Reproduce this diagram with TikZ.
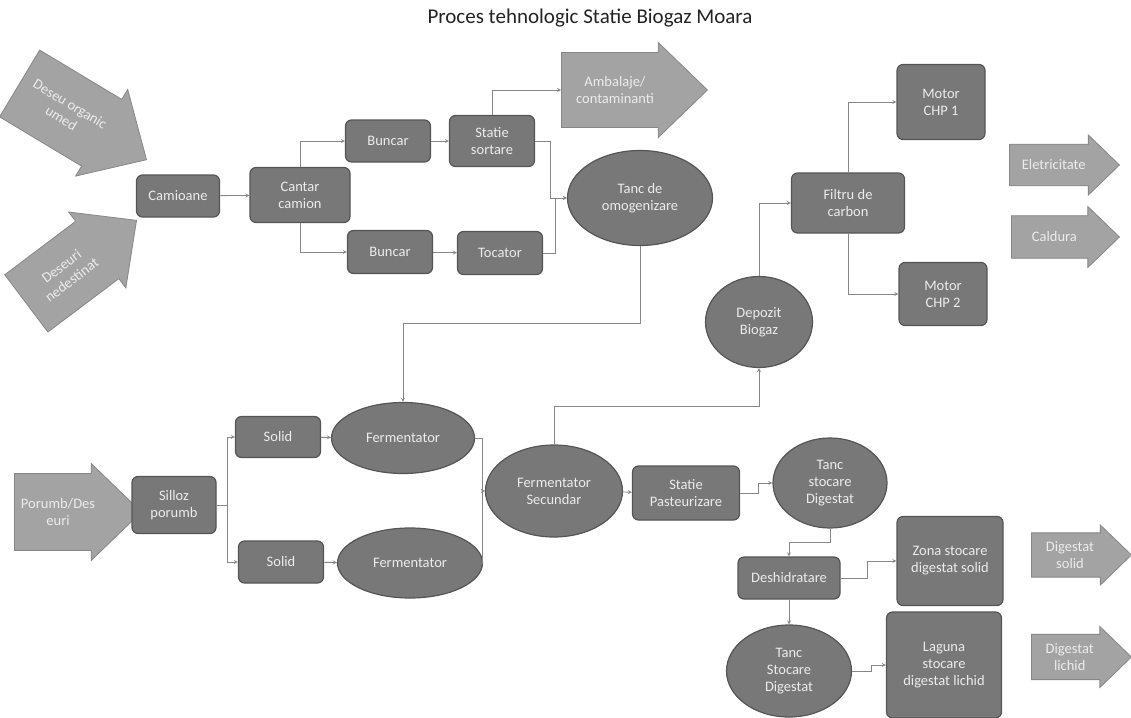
\documentclass[tikz,border=0pt]{standalone}
\usepackage{fontspec}
\setmainfont{Carlito}
\usetikzlibrary{shapes.geometric,shapes.arrows}
\definecolor{boxfill}{RGB}{120,120,120}
\definecolor{boxline}{RGB}{85,85,85}
\definecolor{arrowfill}{RGB}{163,163,163}
\definecolor{arrowline}{RGB}{135,135,135}
\definecolor{boxtext}{RGB}{236,236,236}
\definecolor{flowline}{RGB}{135,135,135}
\definecolor{titlecol}{RGB}{35,35,35}
\newcommand{\nodefont}{\fontsize{14.5}{17}\selectfont}
\begin{document}
\begin{tikzpicture}[x=1pt,y=-1pt,
	box/.style={draw=boxline, fill=boxfill, rounded corners=6pt, line width=1.2pt, text=boxtext, align=center, font=\nodefont, inner sep=1pt},
	tank/.style={ellipse, draw=boxline, fill=boxfill, line width=1.2pt, text=boxtext, align=center, font=\nodefont, inner sep=0pt},
	bigarrow/.style={single arrow, draw=arrowline, fill=arrowfill, line width=0.8pt, text=boxtext, align=center, font=\nodefont, single arrow tip angle=88, inner xsep=1pt, anchor=tip},
	flow/.style={draw=flowline, line width=0.8pt, ->, >=stealth}]
	\useasboundingbox (0,0) rectangle (1131,717);
	\node[font=\fontsize{21}{25}\selectfont, text=titlecol] (title) at (590,18) {Proces tehnologic Statie Biogaz Moara};
	% intrari deseuri
	\node[bigarrow, minimum height=148pt, minimum width=101pt, inner ysep=10pt, rotate=-31] (deseuA) at (147,160) {Deseu organic\\umed};
	\node[bigarrow, minimum height=138pt, minimum width=95pt, inner ysep=8pt, rotate=37] (deseuB) at (137,220) {Deseuri\\nedestinat};
	\node[box, minimum width=83pt, minimum height=42pt] (camioane) at (178,196) {Camioane};
	\node[box, minimum width=100pt, minimum height=55pt] (cantar) at (300,195) {Cantar\\camion};
	\node[box, minimum width=85pt, minimum height=42pt] (buncarA) at (388,141) {Buncar};
	\node[box, minimum width=85pt, minimum height=51pt] (sortare) at (492,141) {Statie\\sortare};
	\node[box, minimum width=85pt, minimum height=43pt] (buncarB) at (390,252) {Buncar};
	\node[box, minimum width=85pt, minimum height=43pt] (tocator) at (500,253) {Tocator};
	\node[tank, minimum width=145pt, minimum height=95pt] (omogen) at (640,198) {Tanc de\\omogenizare};
	\node[bigarrow, minimum height=146pt, minimum width=95pt, inner ysep=12.5pt] (ambalaje) at (708,90) {Ambalaje/\\contaminanti};
	% biogaz
	\node[tank, minimum width=107pt, minimum height=91pt] (depozit) at (759,322) {Depozit\\Biogaz};
	\node[box, minimum width=113pt, minimum height=60pt] (filtru) at (848,203) {Filtru de\\carbon};
	\node[box, minimum width=88pt, minimum height=75pt] (chpA) at (941,102) {Motor\\CHP 1};
	\node[box, minimum width=88pt, minimum height=63pt] (chpB) at (943,294) {Motor\\CHP 2};
	\node[bigarrow, minimum height=110pt, minimum width=60pt, inner ysep=10.5pt] (eletric) at (1120,165) {Eletricitate};
	\node[bigarrow, minimum height=108pt, minimum width=61pt, inner ysep=11pt] (caldura) at (1120,237) {Caldura};
	% fermentare
	\node[bigarrow, minimum height=127pt, minimum width=97pt, inner ysep=13pt] (porumb) at (142,512) {Porumb/Des\\euri};
	\node[box, minimum width=84pt, minimum height=57pt] (silloz) at (174,505) {Silloz\\porumb};
	\node[box, minimum width=85pt, minimum height=41pt] (solidA) at (278,437) {Solid};
	\node[box, minimum width=85pt, minimum height=42pt] (solidB) at (281,562) {Solid};
	\node[tank, minimum width=143pt, minimum height=71pt] (fermA) at (403,438) {Fermentator};
	\node[tank, minimum width=145pt, minimum height=70pt] (fermB) at (410,563) {Fermentator};
	\node[tank, minimum width=137pt, minimum height=92pt] (fermsec) at (554,491) {Fermentator\\Secundar};
	\node[box, minimum width=107pt, minimum height=54pt] (pasteur) at (686,493) {Statie\\Pasteurizare};
	\node[tank, minimum width=114pt, minimum height=90pt] (tancdig) at (830,483) {Tanc\\stocare\\Digestat};
	\node[box, minimum width=102pt, minimum height=42pt] (deshid) at (789,578) {Deshidratare};
	\node[box, minimum width=106pt, minimum height=89pt] (zonasolid) at (950,561) {Zona stocare\\digestat solid};
	\node[tank, minimum width=125pt, minimum height=92pt] (tancstoc) at (789,671) {Tanc\\Stocare\\Digestat};
	\node[box, minimum width=115pt, minimum height=106pt] (laguna) at (944,665) {Laguna\\stocare\\digestat lichid};
	\node[bigarrow, minimum height=100pt, minimum width=60pt, inner ysep=6pt] (digsolid) at (1132,555) {Digestat\\solid};
	\node[bigarrow, minimum height=100pt, minimum width=61pt, inner ysep=6.5pt] (diglichid) at (1132,657) {Digestat\\lichid};
	\coordinate (jf) at (482,491);
	% legaturi
	\draw[flow] (camioane) -- (cantar);
	\draw[flow] (cantar.north) |- (buncarA);
	\draw[flow] (cantar.south) |- (buncarB);
	\draw[flow] (buncarA) -- (sortare);
	\draw[flow] (buncarB) -- (tocator);
	\draw[flow] (sortare.north) |- (ambalaje);
	\draw[flow] (sortare.east) -- ++(15,0) |- (omogen.west);
	\draw[flow] (tocator.east) -- ++(12,0) |- (omogen.west);
	\draw[flow] (omogen.south) -- ++(0,77) -| (fermA.north);
	\draw[flow] (silloz.east) -- ++(11,0) |- (solidA.west);
	\draw[flow] (silloz.east) -- ++(11,0) |- (solidB.west);
	\draw[flow] (solidA) -- (fermA);
	\draw[flow] (solidB) -- (fermB);
	\draw[flow] (fermA.east) -| (jf) -- (fermsec.west);
	\draw[flow] (fermB.east) -| (jf) -- (fermsec.west);
	\draw[flow] (fermsec) -- (pasteur);
	\draw[flow] (pasteur.east) -- ++(18,0) |- (tancdig.west);
	\draw[flow] (tancdig.south) -- ++(0,14) -| (deshid.north);
	\draw[flow] (deshid.east) -- ++(27,0) |- (zonasolid.west);
	\draw[flow] (deshid) -- (tancstoc);
	\draw[flow] (tancstoc.east) -- ++(19,0) |- (laguna.west);
	\draw[flow] (fermsec.north) -- ++(0,-38) -| (depozit.south);
	\draw[flow] (depozit.north) |- (filtru.west);
	\draw[flow] (filtru.north) |- (chpA.west);
	\draw[flow] (filtru.south) |- (chpB.west);
\end{tikzpicture}
\end{document}
